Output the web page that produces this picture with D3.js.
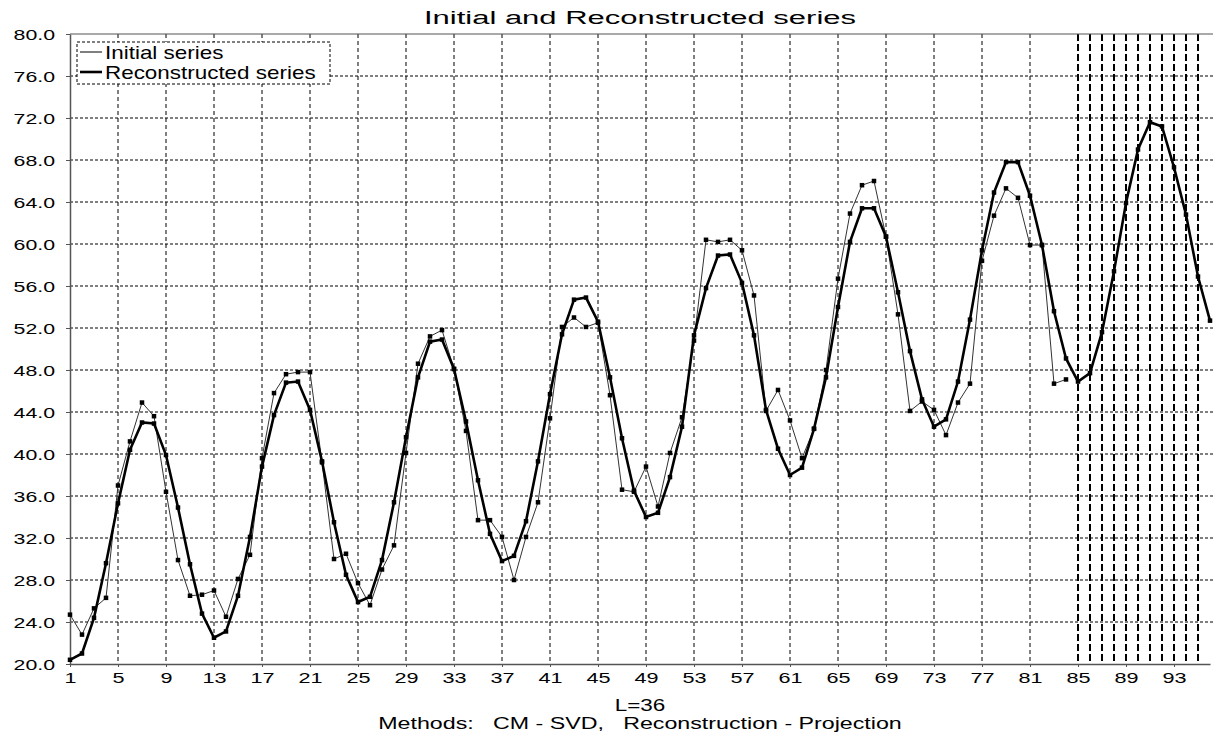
<!DOCTYPE html>
<html>
<head>
<meta charset="utf-8">
<script src="https://cdn.jsdelivr.net/npm/d3@7"></script>
<style>
  body { margin: 0; background: #fff; }
  text { font-family: Arial, "Liberation Sans", sans-serif; fill: #000; }
</style>
</head>
<body>
<div id="chart"></div>
<script>
// values
const initialSeries = [24.7, 22.8, 25.3, 26.3, 37.0, 41.2, 44.9, 43.6, 36.4, 29.9,
  26.5, 26.6, 27.0, 24.5, 28.1, 30.4, 39.6, 45.8, 47.6, 47.8,
  47.8, 39.2, 30.0, 30.5, 27.7, 25.6, 29.0, 31.3, 40.1, 48.6,
  51.2, 51.8, 48.1, 42.2, 33.7, 33.7, 32.1, 28.0, 32.1, 35.4,
  43.4, 52.1, 53.0, 52.1, 52.5, 45.6, 36.6, 36.4, 38.8, 35.0,
  40.1, 43.5, 50.8, 60.4, 60.2, 60.4, 59.4, 55.1, 44.1, 46.1,
  43.2, 39.6, 42.4, 48.0, 56.7, 62.9, 65.6, 66.0, 60.7, 53.3,
  44.1, 45.0, 44.2, 41.8, 44.9, 46.7, 58.4, 62.7, 65.3, 64.4,
  59.9, 59.9, 46.7, 47.1];
const reconstructedSeries = [20.4, 21.0, 24.4, 29.6, 35.3, 40.4, 43.0, 42.9, 39.9, 34.9,
  29.5, 24.8, 22.5, 23.1, 26.5, 32.1, 38.8, 43.7, 46.8, 46.9,
  44.2, 39.3, 33.5, 28.5, 25.9, 26.4, 29.9, 35.4, 41.6, 47.3,
  50.7, 50.9, 48.1, 43.1, 37.5, 32.4, 29.8, 30.3, 33.6, 39.3,
  45.7, 51.4, 54.7, 54.9, 52.6, 47.3, 41.5, 36.5, 34.0, 34.4,
  37.8, 42.6, 51.3, 55.8, 58.9, 59.0, 56.3, 51.3, 44.2, 40.5,
  38.0, 38.7, 42.4, 47.3, 54.0, 60.2, 63.4, 63.4, 60.7, 55.4,
  49.8, 45.2, 42.6, 43.3, 46.9, 52.8, 59.4, 64.9, 67.8, 67.8,
  64.6, 59.9, 53.6, 49.1, 46.9, 47.7, 51.6, 57.4, 63.9, 69.0,
  71.6, 71.2, 67.3, 62.8, 56.9, 52.7];
const xTicks = d3.range(1, 97, 4);          // 1, 5, 9 ... 93
const yTicks = d3.range(20, 81, 4);         // 20.0 ... 80.0
const forecastLines = d3.range(85, 96);     // 85 ... 95
const legendItems = ["Initial series", "Reconstructed series"];

const width = 1213, height = 735;
const margin = {top: 34, right: 3, bottom: 71, left: 70};

const svg = d3.select("#chart").append("svg")
  .attr("width", width)
  .attr("height", height);

const x = d3.scaleLinear().domain([1, 96]).range([margin.left, width - margin.right]);
const y = d3.scaleLinear().domain([20, 80]).range([height - margin.bottom, margin.top]);

// the original font is a wide one, so stretch the glyphs sideways
function stretch(sel, k) {
  sel.each(function() {
    let w = this.getComputedTextLength();
    d3.select(this)
      .attr("textLength", w * k)
      .attr("lengthAdjust", "spacingAndGlyphs");
  });
}

// grid
svg.append("g")
  .selectAll("line")
  .data(yTicks.filter(d => d > 20 && d < 80))
  .join("line")
    .attr("x1", margin.left).attr("x2", width)
    .attr("y1", d => y(d)).attr("y2", d => y(d))
    .attr("stroke", "#000").attr("stroke-width", 1)
    .attr("stroke-dasharray", "3,2");

svg.append("g")
  .selectAll("line")
  .data(xTicks.filter(d => d > 1 && d < 85))
  .join("line")
    .attr("x1", d => x(d)).attr("x2", d => x(d))
    .attr("y1", margin.top).attr("y2", height - margin.bottom)
    .attr("stroke", "#000").attr("stroke-width", 1)
    .attr("stroke-dasharray", "4,3");

svg.append("g")
  .selectAll("line")
  .data(forecastLines)
  .join("line")
    .attr("x1", d => x(d)).attr("x2", d => x(d))
    .attr("y1", margin.top).attr("y2", height - margin.bottom)
    .attr("stroke", "#000").attr("stroke-width", 2)
    .attr("stroke-dasharray", "7,3");

// frame
svg.append("line")
  .attr("x1", margin.left).attr("x2", width)
  .attr("y1", margin.top).attr("y2", margin.top)
  .attr("stroke", "#555").attr("stroke-width", 1);

// axes
const yAxis = d3.axisLeft(y)
  .tickValues(yTicks)
  .tickFormat(d3.format(".1f"))
  .tickSize(4)
  .tickSizeOuter(0);
const gy = svg.append("g")
  .attr("transform", "translate(" + margin.left + ",0)")
  .call(yAxis);
gy.selectAll("text")
  .attr("font-size", "15px")
  .attr("x", -15)
  .attr("dy", "0.36em")
  .call(stretch, 1.42);

const xAxis = d3.axisBottom(x)
  .tickValues(xTicks)
  .tickFormat(d3.format("d"))
  .tickSize(3)
  .tickSizeOuter(0);
const gx = svg.append("g")
  .attr("transform", "translate(0," + (height - margin.bottom) + ")")
  .call(xAxis);
gx.selectAll("text")
  .attr("font-size", "15px")
  .attr("y", 8)
  .call(stretch, 1.44);
gx.select(".domain").attr("stroke", "#555").attr("stroke-width", 1.5);
gy.select(".domain").attr("stroke", "#555").attr("stroke-width", 1.5);
svg.selectAll(".tick line").attr("stroke", "#555");

// series
const line = d3.line()
  .x((d, i) => x(i + 1))
  .y(d => y(d));

svg.append("path")
  .datum(initialSeries)
  .attr("fill", "none")
  .attr("stroke", "#333")
  .attr("stroke-width", 1)
  .attr("d", line);

svg.append("path")
  .datum(reconstructedSeries)
  .attr("fill", "none")
  .attr("stroke", "#000")
  .attr("stroke-width", 2.6)
  .attr("d", line);

const markerSize = 4.5;
[initialSeries, reconstructedSeries].forEach(series => {
  svg.append("g")
    .selectAll("rect")
    .data(series)
    .join("rect")
      .attr("x", (d, i) => x(i + 1) - markerSize / 2)
      .attr("y", d => y(d) - markerSize / 2)
      .attr("width", markerSize)
      .attr("height", markerSize)
      .attr("fill", "#000");
});

// legend
const legend = svg.append("g");
legend.append("rect")
  .attr("x", 77).attr("y", 42)
  .attr("width", 253).attr("height", 42)
  .attr("fill", "#fff")
  .attr("stroke", "#000").attr("stroke-width", 1)
  .attr("stroke-dasharray", "3,2");
legendItems.forEach((name, i) => {
  const ly = 52 + i * 20;
  legend.append("line")
    .attr("x1", 80).attr("x2", 102)
    .attr("y1", ly).attr("y2", ly)
    .attr("stroke", "#000")
    .attr("stroke-width", i == 0 ? 1 : 2.6);
  legend.append("text")
    .attr("x", 105).attr("y", ly + 7)
    .attr("font-size", "19px")
    .text(name)
    .call(stretch, 1.18);
});

// titles
svg.append("text")
  .attr("x", 640).attr("y", 24)
  .attr("text-anchor", "middle")
  .attr("font-size", "18px")
  .text("Initial and Reconstructed series")
  .call(stretch, 1.72);

svg.append("text")
  .attr("x", 640).attr("y", 711)
  .attr("text-anchor", "middle")
  .attr("font-size", "16px")
  .text("L=36")
  .call(stretch, 1.4);

svg.append("text")
  .attr("x", 640).attr("y", 729)
  .attr("text-anchor", "middle")
  .attr("font-size", "16px")
  .style("white-space", "pre")
  .text("Methods:   CM - SVD,   Reconstruction - Projection")
  .call(stretch, 1.45);
</script>
</body>
</html>
